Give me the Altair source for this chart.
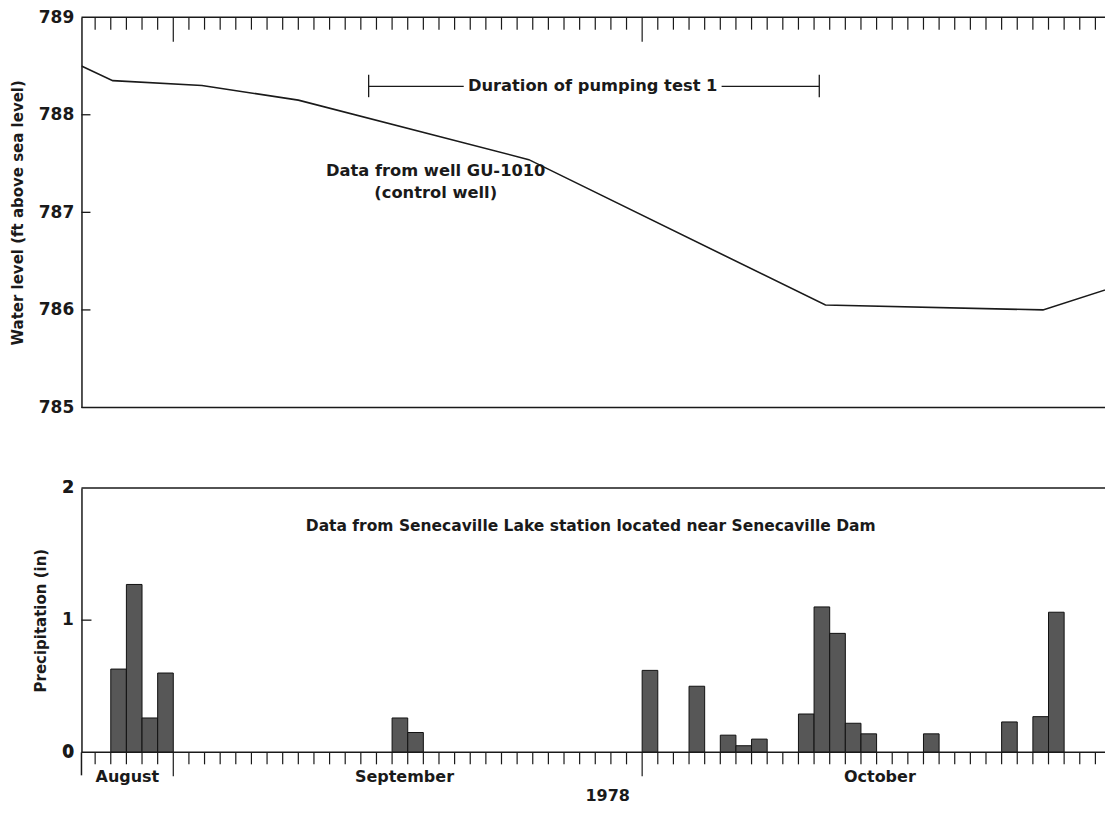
import altair as alt
import pandas as pd

# ---------------- data ----------------
level_dates = ["1978-08-26T03:00", "1978-08-28T03:00", "1978-09-02T20:00", "1978-09-09T00:00",
               "1978-09-23T18:00", "1978-10-12T17:30", "1978-10-26T15:30", "1978-10-31T03:00"]
level_values = [788.50, 788.35, 788.30, 788.15, 787.54, 786.05, 786.00, 786.23]

precip_dates = ["1978-08-28T00:00", "1978-08-29T00:00", "1978-08-30T00:00", "1978-08-31T00:00",
                "1978-09-15T00:00", "1978-09-16T00:00",
                "1978-10-01T00:00", "1978-10-04T00:00", "1978-10-06T00:00", "1978-10-07T00:00",
                "1978-10-08T00:00", "1978-10-11T00:00", "1978-10-12T00:00", "1978-10-13T00:00",
                "1978-10-14T00:00", "1978-10-15T00:00", "1978-10-19T00:00", "1978-10-24T00:00",
                "1978-10-26T00:00", "1978-10-27T00:00"]
precip_values = [0.63, 1.27, 0.26, 0.60,
                 0.26, 0.15,
                 0.62, 0.50, 0.13, 0.05,
                 0.10, 0.29, 1.10, 0.90,
                 0.22, 0.14, 0.14, 0.23,
                 0.27, 1.06]

level_ticks = [785, 786, 787, 788, 789]
precip_ticks = [0, 1, 2]
precip_tick_labels = ["0", "1", "2"]

month_labels = ["August", "September", "October"]
month_label_dates = ["1978-08-29T01:30", "1978-09-15T19:00", "1978-10-16T05:00"]
year_label = ["1978"]
year_label_date = ["1978-09-28T19:00"]

tick_days = [d.strftime("%Y-%m-%dT%H:%M") for d in pd.date_range("1978-08-27", "1978-10-30", freq="D")]
major_days = ["1978-09-01T00:00", "1978-10-01T00:00"]

pump_start = "1978-09-13T12:00"
pump_end = "1978-10-12T08:00"
pump_gap = ["1978-09-19T14:00", "1978-10-06T02:00"]
pump_y = 788.29
pump_cap = [788.41, 788.18]
pump_text = "Duration of pumping test 1"
pump_text_date = "1978-09-27T20:00"

well_text = ["Data from well GU-1010", "(control well)"]
well_text_date = "1978-09-17T19:00"
well_text_y = [787.42, 787.20]

station_text = "Data from Senecaville Lake station located near Senecaville Dam"
station_text_date = "1978-09-27T17:00"
station_text_y = 1.71

# ---------------- layout ----------------
W = 1024
H1 = 390.5
H2 = 264.5
INK = "#1a1a1a"
FONT = "DejaVu Sans"

xs = alt.Scale(domain=[alt.DateTime(year=1978, month=8, date=26, hours=3),
                       alt.DateTime(year=1978, month=10, date=30, hours=14, minutes=45)])
ys1 = alt.Scale(domain=[785, 789], nice=False, zero=False)
ys2 = alt.Scale(domain=[0, 2], nice=False)

AXSTYLE = dict(ticks=False, grid=False, domain=True, domainColor=INK,
               domainWidth=1.5, labelPadding=7.7, titlePadding=13, format="d",
               labelOverlap=False, labelFlush=False,
               labelFont=FONT, labelFontWeight="bold", labelFontSize=17, labelColor=INK,
               titleFont=FONT, titleFontSize=15, titleFontWeight="bold", titleColor=INK)
AX1 = alt.Axis(values=level_ticks, title="Water level (ft above sea level)", **AXSTYLE)
AX2 = alt.Axis(values=precip_ticks, title="Precipitation (in)", **AXSTYLE)


def xenc(field):
    return alt.X(field, type="temporal", scale=xs, axis=None)


def y1(field):
    return alt.Y(field, type="quantitative", scale=ys1, axis=AX1)


def y2(field):
    return alt.Y(field, type="quantitative", scale=ys2, axis=AX2)


minor_df = pd.DataFrame({"date": [d for d in tick_days if d not in major_days]})
major_df = pd.DataFrame({"date": major_days})

# ---------------- top panel ----------------
level_df = pd.DataFrame({"date": level_dates, "level": level_values})
line = alt.Chart(level_df).mark_line(color=INK, strokeWidth=1.6, clip=True).encode(
    x=xenc("date"), y=y1("level"))

frame1 = alt.Chart(pd.DataFrame({"v": [level_ticks[0], level_ticks[-1]]})).mark_rule(
    color=INK, strokeWidth=1.5).encode(y=y1("v"), x=alt.value(0), x2=alt.value(W))

ytick1 = alt.Chart(pd.DataFrame({"v": level_ticks[1:-1]})).mark_rule(
    color=INK, strokeWidth=1.3).encode(y=y1("v"), x=alt.value(0), x2=alt.value(9))

top_minor = alt.Chart(minor_df).mark_rule(color=INK, strokeWidth=1.2).encode(
    x=xenc("date"), y=alt.value(0), y2=alt.value(12.5))
top_major = alt.Chart(major_df).mark_rule(color=INK, strokeWidth=1.2).encode(
    x=xenc("date"), y=alt.value(0), y2=alt.value(24.5))

seg_df = pd.DataFrame({"a": [pump_start, pump_gap[1]], "b": [pump_gap[0], pump_end], "y": [pump_y, pump_y]})
pump_lines = alt.Chart(seg_df).mark_rule(color=INK, strokeWidth=1.3).encode(
    x=xenc("a"), x2="b:T", y=y1("y"))
cap_df = pd.DataFrame({"d": [pump_start, pump_end], "ya": [pump_cap[0]] * 2, "yb": [pump_cap[1]] * 2})
pump_caps = alt.Chart(cap_df).mark_rule(color=INK, strokeWidth=1.3).encode(
    x=xenc("d"), y=y1("ya"), y2="yb:Q")

txt1_df = pd.DataFrame({"d": [pump_text_date] + [well_text_date] * 2,
                        "y": [pump_y] + well_text_y,
                        "t": [pump_text] + well_text})
texts1 = alt.Chart(txt1_df).mark_text(font=FONT, fontWeight="bold", fontSize=16.3,
                                      color=INK, baseline="middle", align="center").encode(
    x=xenc("d"), y=y1("y"), text="t:N")

top = alt.layer(line, frame1, ytick1, top_minor, top_major, pump_lines, pump_caps, texts1).properties(
    width=W, height=H1)

# ---------------- bottom panel ----------------
pdf = pd.DataFrame({"start": pd.to_datetime(precip_dates), "p": precip_values})
pdf["end"] = pdf["start"] + pd.Timedelta(days=1)
pdf["start"] = pdf["start"].dt.strftime("%Y-%m-%dT%H:%M")
pdf["end"] = pdf["end"].dt.strftime("%Y-%m-%dT%H:%M")
pdf["base"] = 0.0

bars = alt.Chart(pdf).mark_rect(fill="#575757", stroke="#111", strokeWidth=1).encode(
    x=xenc("start"), x2="end:T", y=y2("p"), y2="base:Q")

frame2 = alt.Chart(pd.DataFrame({"v": [precip_ticks[0], precip_ticks[-1]]})).mark_rule(
    color=INK, strokeWidth=1.5).encode(y=y2("v"), x=alt.value(0), x2=alt.value(W))

ytick2 = alt.Chart(pd.DataFrame({"v": precip_ticks[1:-1]})).mark_rule(
    color=INK, strokeWidth=1.3).encode(y=y2("v"), x=alt.value(0), x2=alt.value(10))

# tick labels of the precipitation axis, written at the axis label position
ylab2 = alt.Chart(pd.DataFrame({"v": precip_ticks, "t": precip_tick_labels})).mark_text(
    font=FONT, fontWeight="bold", fontSize=17, color=INK, align="right", baseline="middle",
    dx=-7.7).encode(y=y2("v"), x=alt.value(0), text="t:N")

bot_minor = alt.Chart(minor_df).mark_rule(color=INK, strokeWidth=1.2).encode(
    x=xenc("date"), y=alt.value(H2), y2=alt.value(H2 + 12))
bot_major = alt.Chart(major_df).mark_rule(color=INK, strokeWidth=1.2).encode(
    x=xenc("date"), y=alt.value(H2), y2=alt.value(H2 + 24))
left_ext = alt.Chart(pd.DataFrame({"k": [0]})).mark_rule(color=INK, strokeWidth=1.5).encode(
    x=alt.value(0), y=alt.value(H2), y2=alt.value(H2 + 23))

month_df = pd.DataFrame({"d": month_label_dates, "t": month_labels})
months = alt.Chart(month_df).mark_text(font=FONT, fontWeight="bold", fontSize=16,
                                       color=INK, baseline="middle", align="center").encode(
    x=xenc("d"), y=alt.value(H2 + 24.5), text="t:N")
year_df = pd.DataFrame({"d": year_label_date, "t": year_label})
year = alt.Chart(year_df).mark_text(font=FONT, fontWeight="bold", fontSize=16,
                                    color=INK, baseline="middle", align="center").encode(
    x=xenc("d"), y=alt.value(H2 + 44), text="t:N")

st_df = pd.DataFrame({"d": [station_text_date], "y": [station_text_y], "t": [station_text]})
station = alt.Chart(st_df).mark_text(font=FONT, fontWeight="bold", fontSize=15.5,
                                     color=INK, baseline="middle", align="center").encode(
    x=xenc("d"), y=y2("y"), text="t:N")

bottom = alt.layer(bars, frame2, ytick2, ylab2, bot_minor, bot_major, left_ext, months, year,
                   station).properties(width=W, height=H2)

chart = alt.vconcat(top, bottom, spacing=63).properties(
    padding={"left": 1.5, "top": 0, "right": 0, "bottom": 0},
    background="white",
).configure_view(strokeWidth=0, stroke="transparent")

chart.save("out.html", embed_options={"renderer": "svg", "actions": False})
